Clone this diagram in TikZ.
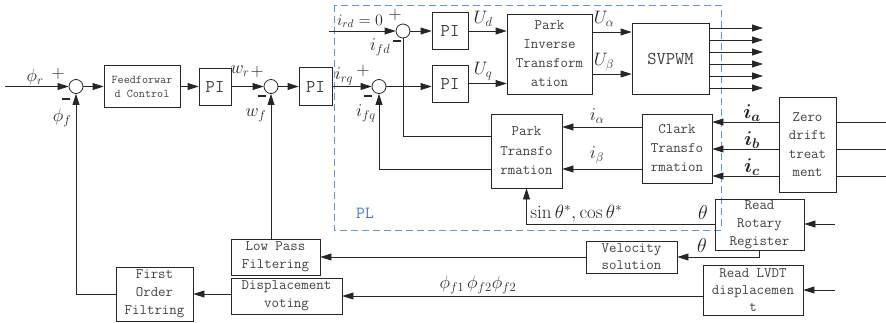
\RequirePackage{fix-cm}
\documentclass[tikz,border=0pt]{standalone}
\usepackage{amsmath}
\usepackage{fontspec}
\usetikzlibrary{arrows.meta,positioning}
\definecolor{plblue}{RGB}{100,148,210}
\definecolor{pltext}{RGB}{70,120,200}
\newcommand{\ib}[1]{\ensuremath{\boldsymbol{i}_{\boldsymbol{#1}}}}
\newcommand{\msign}{\rule[0.5ex]{8pt}{2.4pt}}

\begin{document}
\begin{tikzpicture}[x=1pt, y=-1pt, color=black!85, line width=0.8pt,
    >={Triangle[length=11pt,width=7pt]},
    blk/.style={draw, inner sep=1pt, align=center, text=black!75,
      font=\fontsize{14.5}{18}\selectfont\ttfamily},
    pibox/.style={blk, font=\fontsize{18}{18}\selectfont\ttfamily},
    sum/.style={draw, circle, minimum size=14pt, inner sep=0pt},
    lbl/.style={inner sep=0pt, font=\fontsize{18}{18}\selectfont},
    sgn/.style={inner sep=0pt, font=\fontsize{18}{18}\selectfont}]
  \useasboundingbox (0,0) rectangle (886,322);

  \draw[plblue, dash pattern=on 7pt off 4pt, line width=0.9pt] (334,5) rectangle (721,230);
  \node[text=pltext, font=\fontsize{17}{17}\selectfont\ttfamily] (pl) at (365,213) {PL};

  \node[sum] (sumA) at (76,86.5) {};
  \node[blk, font=\fontsize{11.8}{14}\selectfont\ttfamily, minimum width=76pt, minimum height=42pt] (ffc) at (142,86.5) {Feedforwar\\d Control};
  \node[pibox, minimum width=32pt, minimum height=37pt] (piA) at (215,86.5) {PI};
  \node[sum] (sumB) at (271,86.5) {};
  \node[pibox, minimum width=33pt, minimum height=38pt] (piB) at (315.5,86.5) {PI};
  \node[sum] (sumD) at (379,86.5) {};
  \node[sum] (sumC) at (403,31) {};
  \node[pibox, minimum width=36pt, minimum height=37pt] (pid) at (450,31) {PI};
  \node[pibox, minimum width=36pt, minimum height=37pt] (piq) at (450,83.5) {PI};
  \node[blk, font=\fontsize{14.5}{19}\selectfont\ttfamily, minimum width=85pt, minimum height=80pt] (pinv) at (549.5,54) {Park\\Inverse\\Transform\\ation};
  \node[pibox, minimum width=77pt, minimum height=71pt] (svpwm) at (670.5,58.5) {SVPWM};
  \node[blk, font=\fontsize{14.5}{19.5}\selectfont\ttfamily, minimum width=71pt, minimum height=74pt] (park) at (526.5,151) {Park\\Transfo\\rmation};
  \node[blk, font=\fontsize{14.5}{19}\selectfont\ttfamily, minimum width=70pt, minimum height=69pt] (clark) at (677,148.5) {Clark\\Transfo\\rmation};
  \node[blk, font=\fontsize{14.5}{18.5}\selectfont\ttfamily, minimum width=57pt, minimum height=95pt] (zero) at (807.5,144.5) {Zero\\drift\\treat\\ment};
  \node[blk, minimum width=89pt, minimum height=51pt] (rrr) at (759.5,224.5) {Read\\Rotary\\Register};
  \node[blk, font=\fontsize{14.5}{17}\selectfont\ttfamily, minimum width=91pt, minimum height=32pt] (vel) at (631.5,257) {Velocity\\solution};
  \node[blk, font=\fontsize{14.5}{17}\selectfont\ttfamily, minimum width=100pt, minimum height=50pt] (lvdt) at (753,290) {Read LVDT\\displacemen\\t};
  \node[blk, minimum width=89pt, minimum height=36pt] (lpf) at (275.5,257) {Low Pass\\Filtering};
  \node[blk, minimum width=111pt, minimum height=36pt] (disp) at (286.5,296) {Displacement\\voting};
  \node[blk, minimum width=77pt, minimum height=54pt] (fof) at (154.5,294) {First\\Order\\Filtring};

  \coordinate (inA) at (5,86.5);
  \coordinate (ind) at (329,31);
  \coordinate (inR) at (835,224);
  \coordinate (inL) at (835,290);

  \draw[->] (inA) -- (sumA);
  \draw[->] (sumA) -- (ffc);
  \draw[->] (ffc) -- (piA);
  \draw[->] (piA) -- (sumB);
  \draw[->] (sumB) -- (piB);
  \draw[->] (piB) -- (sumD);
  \draw[->] (sumD) -- (sumD -| piq.west);
  \draw[->] (ind) -- (sumC);
  \draw[->] (sumC) -- (pid);
  \draw[->] (pid) -- (pid -| pinv.west);
  \draw[->] (piq) -- (piq -| pinv.west);
  \draw[->] ([yshift=22pt]pinv.east) -- ([yshift=22pt]pinv.east -| svpwm.west);
  \draw[->] ([yshift=-20pt]pinv.east) -- ([yshift=-20pt]pinv.east -| svpwm.west);
  \foreach \y in {28,40,52,64,76,88}
    \draw[->] (svpwm.east |- 0,\y) -- (763,\y);

  \foreach \y/\n in {122/a,149/b,176/c} {
    \coordinate (z\n) at (886,\y);
    \draw (z\n) -- (z\n -| zero.east);
    \draw[->] (zero.west |- z\n) -- (clark.east |- z\n);
  }
  \draw[->] (clark.west |- 0,127) -- (park.east |- 0,127);
  \draw[->] (clark.west |- 0,169) -- (park.east |- 0,169);
  \draw (park.west |- 0,136) -| (sumC.south);
  \draw[->] (park.west |- 0,169) -| (sumD.south);

  \draw[->] (inR) -- (inR -| rrr.east);
  \draw[->] (rrr.west |- inR) -| (park.south);
  \draw[->] (rrr.south) |- (vel.east);
  \draw[->] (vel) -- (lpf);
  \draw[->] (lpf.north -| sumB) -- (sumB);
  \draw[->] (inL) -- (inL -| lvdt.east);
  \draw[->] (lvdt.west |- disp) -- (disp);
  \draw[->] (disp.west |- fof) -- (fof);
  \draw[->] (fof.west) -| (sumA.south);

  \node[lbl] (phir) at (35,77) {$\phi_r$};
  \node[sgn] (pA) at (58,74) {$+$};
  \node[sgn] (mA) at (66,101) {\msign};
  \node[lbl] (phif) at (62,118) {$\phi_f$};
  \node[lbl] (wr) at (240,71) {$w_r$};
  \node[sgn] (pB) at (257,72) {$+$};
  \node[sgn] (mB) at (262,98) {\msign};
  \node[lbl] (wf) at (256,115) {$w_f$};
  \node[lbl] (irq) at (344,76) {$i_{rq}$};
  \node[sgn] (pD) at (363,71) {$+$};
  \node[sgn] (mD) at (368,98) {\msign};
  \node[lbl] (ifq) at (366,113) {$i_{fq}$};
  \node[lbl, font=\fontsize{16}{16}\selectfont] (ird) at (360,21) {$i_{rd}=0$};
  \node[sgn] (pC) at (395,15) {$+$};
  \node[sgn] (mC) at (397,43) {\msign};
  \node[lbl] (ifd) at (380,47) {$i_{fd}$};
  \node[lbl] (ud) at (483,19) {$U_d$};
  \node[lbl] (uq) at (483,71) {$U_q$};
  \node[lbl] (ua) at (604,19) {$U_\alpha$};
  \node[lbl] (ub) at (604,62) {$U_\beta$};
  \node[lbl] (ial) at (597,116) {$i_\alpha$};
  \node[lbl] (ibe) at (597,155) {$i_\beta$};
  \node[lbl, font=\fontsize{20}{20}\selectfont] (ia) at (752,113) {\ib{a}};
  \node[lbl, font=\fontsize{20}{20}\selectfont] (ibb) at (752,140) {\ib{b}};
  \node[lbl, font=\fontsize{20}{20}\selectfont] (ic) at (752,167) {\ib{c}};
  \node[lbl, font=\fontsize{19}{19}\selectfont, anchor=base west] (sc) at (530,218) {$\sin\theta^*,\cos\theta^*$};
  \node[lbl, font=\fontsize{20}{20}\selectfont] (th1) at (703,213) {$\theta$};
  \node[lbl, font=\fontsize{20}{20}\selectfont] (th2) at (702,246) {$\theta$};
  \node[lbl] (phis) at (478,285) {$\phi_{f1}\,\phi_{f2}\phi_{f2}$};
\end{tikzpicture}
\end{document}
